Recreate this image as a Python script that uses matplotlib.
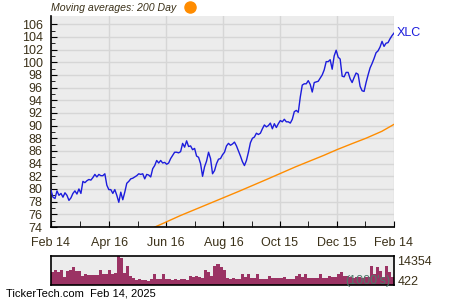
import matplotlib.pyplot as plt
import pandas as pd

# XLC closing prices, Feb 14 2024 -> Feb 14 2025
price = [
    79.8, 78.7, 78.5, 79.7, 79.0, 79.3, 78.7, 79.4, 79.0, 78.2,
    78.6, 79.3, 79.7, 79.2, 80.0, 79.3, 81.2, 81.0, 81.3, 81.5,
    81.4, 81.8, 82.3, 81.9, 82.3, 82.1, 82.1, 82.4, 80.6, 79.9,
    79.9, 79.3, 79.9, 79.0, 77.9, 79.5, 78.3, 79.5, 80.9, 81.2,
    81.6, 81.7, 81.9, 82.1, 82.4, 82.3, 82.4, 81.6, 82.3, 82.2,
    81.9, 83.2, 83.7, 84.5, 84.1, 84.5, 84.1, 84.2, 83.9, 84.1,
    84.8, 85.3, 85.8, 85.8, 85.7, 85.9, 87.2, 86.6, 87.6, 86.7,
    86.8, 86.2, 86.4, 85.2, 85.0, 84.0, 82.0, 83.5, 84.4, 85.8,
    84.8, 82.4, 82.9, 84.0, 84.7, 84.8, 85.4, 85.8, 86.8, 87.2,
    86.9, 87.1, 87.4, 86.8, 86.0, 85.2, 84.3, 83.7, 84.5, 85.8,
    87.3, 88.0, 88.2, 88.8, 88.6, 88.8, 89.5, 90.1, 89.8, 90.0,
    90.4, 89.5, 90.3, 89.7, 90.3, 90.8, 90.6, 91.0, 90.6, 90.6,
    90.4, 91.0, 92.2, 92.4, 92.1, 94.5, 96.4, 96.6, 96.6, 97.1,
    96.5, 95.3, 96.8, 96.9, 97.0, 97.5, 98.0, 98.8, 100.1, 100.1,
    100.4, 98.9, 101.0, 101.9, 100.8, 100.5, 97.8, 97.7, 98.4, 98.4,
    97.4, 96.8, 97.6, 98.3, 98.1, 96.2, 95.5, 95.4, 96.8, 98.0,
    99.1, 99.8, 100.6, 101.5, 101.8, 102.4, 103.3, 102.5, 103.0, 103.1,
    103.7, 104.2, 104.6,
]

# 200 day moving average
ma_dates = ["2024-05-15", "2024-06-01", "2024-07-01", "2024-08-01", "2024-09-01",
            "2024-10-01", "2024-11-01", "2024-12-01", "2024-12-15", "2025-01-01",
            "2025-01-15", "2025-02-01", "2025-02-14"]
ma_200 = [72.7, 73.8, 75.8, 77.7, 79.6, 81.5, 83.5, 85.3, 86.2, 87.2, 88.0, 89.1, 90.2]

# volume, thousands of shares
volume = [
    6600, 7200, 6500, 7600, 3900, 6900, 7200, 8900, 6900, 6700,
    4700, 5600, 5000, 4900, 5000, 4900, 7600, 5200, 5500, 7200,
    5600, 5700, 14354, 13600, 5900, 9300, 4300, 3600, 2600, 2900,
    2400, 2700, 2200, 2900, 5600, 3000, 3200, 5600, 2900, 3000,
    2700, 3200, 2600, 2900, 3000, 2700, 4700, 3900, 4700, 3900,
    3700, 7600, 6500, 4700, 9300, 10600, 8900, 7200, 3400, 3200,
    3400, 3000, 2900, 5200, 4200, 5200, 3600, 3300, 5200, 3000,
    3200, 3000, 4700, 3600, 3400, 3700, 3600, 4200, 3000, 3200,
    2900, 4700, 5200, 3900, 5200, 3600, 3400, 3700, 3600, 5200,
    3600, 3700, 4700, 3900, 4000, 5200, 6500, 4700, 4700, 3900,
    3700, 3900, 4000, 3700, 3900, 4000, 9300, 5600, 8900, 6900,
    4200, 9300, 6500, 4200, 4000,
]
vol_max, vol_min = 14354, 422

tick_dates = ["2024-02-14", "2024-04-16", "2024-06-16", "2024-08-16",
              "2024-10-15", "2024-12-15", "2025-02-14"]
tick_labels = ["Feb 14", "Apr 16", "Jun 16", "Aug 16", "Oct 15", "Dec 15", "Feb 14"]

start, end = pd.Timestamp("2024-02-14"), pd.Timestamp("2025-02-14")
price_dates = pd.date_range(start, end, periods=len(price))
vol_dates = pd.date_range(start, end, periods=len(volume))
ticks = pd.to_datetime(tick_dates)
minor = ticks[:-1] + (ticks[1:] - ticks[:-1]) / 2

txt = "#3a3018"
bg = "#ececec"
plt.rcParams["font.family"] = ["Liberation Sans", "DejaVu Sans"]

fig = plt.figure(figsize=(4.5, 3), dpi=100)
ax = fig.add_axes([51 / 450, 1 - 227 / 300, 343 / 450, 211 / 300])
ax.set_facecolor(bg)

ax.plot(price_dates, price, color="#1c1cdc", lw=1.0, zorder=3)
ax.plot(pd.to_datetime(ma_dates), ma_200, color="#ff8c00", lw=1.0, zorder=2)

ax.set_xlim(start, end)
ax.set_ylim(74, 107.3)
ax.set_yticks(range(74, 107, 2))
ax.set_yticks(range(75, 107, 2), minor=True)
ax.set_xticks(ticks)
ax.set_xticklabels(tick_labels)
ax.set_xticks(minor, minor=True)
ax.grid(True, which="major", color="#d6d6d6", lw=1.0)
ax.set_axisbelow(True)
ax.tick_params(which="both", direction="in", colors="black", labelcolor=txt, labelsize=9)
ax.tick_params(axis="y", which="major", length=4, pad=6)
ax.tick_params(axis="y", which="minor", length=3)
ax.tick_params(axis="x", which="both", length=4, pad=7)
for side in ["top", "right"]:
    ax.spines[side].set_visible(False)
for side in ["left", "bottom"]:
    ax.spines[side].set_linewidth(1.2)

ax.text(1.008, price[-1], "XLC", transform=ax.get_yaxis_transform(),
        color="#1c1cdc", fontsize=9, va="center", ha="left")

fig.text(51 / 450, 1 - 8 / 300, "Moving averages: 200 Day", style="italic",
         color=txt, fontsize=7.6, va="center", ha="left")
# legend dot for the moving average
fig.add_artist(plt.Line2D([190 / 450], [1 - 7 / 300], marker="o", markersize=8,
                          color="#ff8c00", transform=fig.transFigure))

# volume panel
vax = fig.add_axes([51 / 450, 1 - 285 / 300, 343 / 450, 29 / 300])
vax.set_facecolor(bg)
vax.bar(vol_dates, volume, width=(end - start).days / len(volume) * 1.02,
        color="#9b3364", align="edge")
vax.set_xlim(start, end)
vax.set_ylim(0, vol_max)
vax.set_xticks([])
vax.set_yticks([])
for s in vax.spines.values():
    s.set_linewidth(1.2)
vax.text(1.01, 0.78, str(vol_max), transform=vax.transAxes, color=txt,
         fontsize=9, va="center", ha="left")
vax.text(1.01, 0.12, str(vol_min), transform=vax.transAxes, color=txt,
         fontsize=9, va="center", ha="left")
vax.text(0.99, 0.14, "(1000's)", transform=vax.transAxes, color="#4f7a6a",
         fontsize=9, va="center", ha="right", zorder=5)

fig.text(6 / 450, 1 - 294 / 300, "TickerTech.com  Feb 14, 2025", color="black",
         fontsize=8, va="center", ha="left")

fig.savefig("out.png", dpi=100)
